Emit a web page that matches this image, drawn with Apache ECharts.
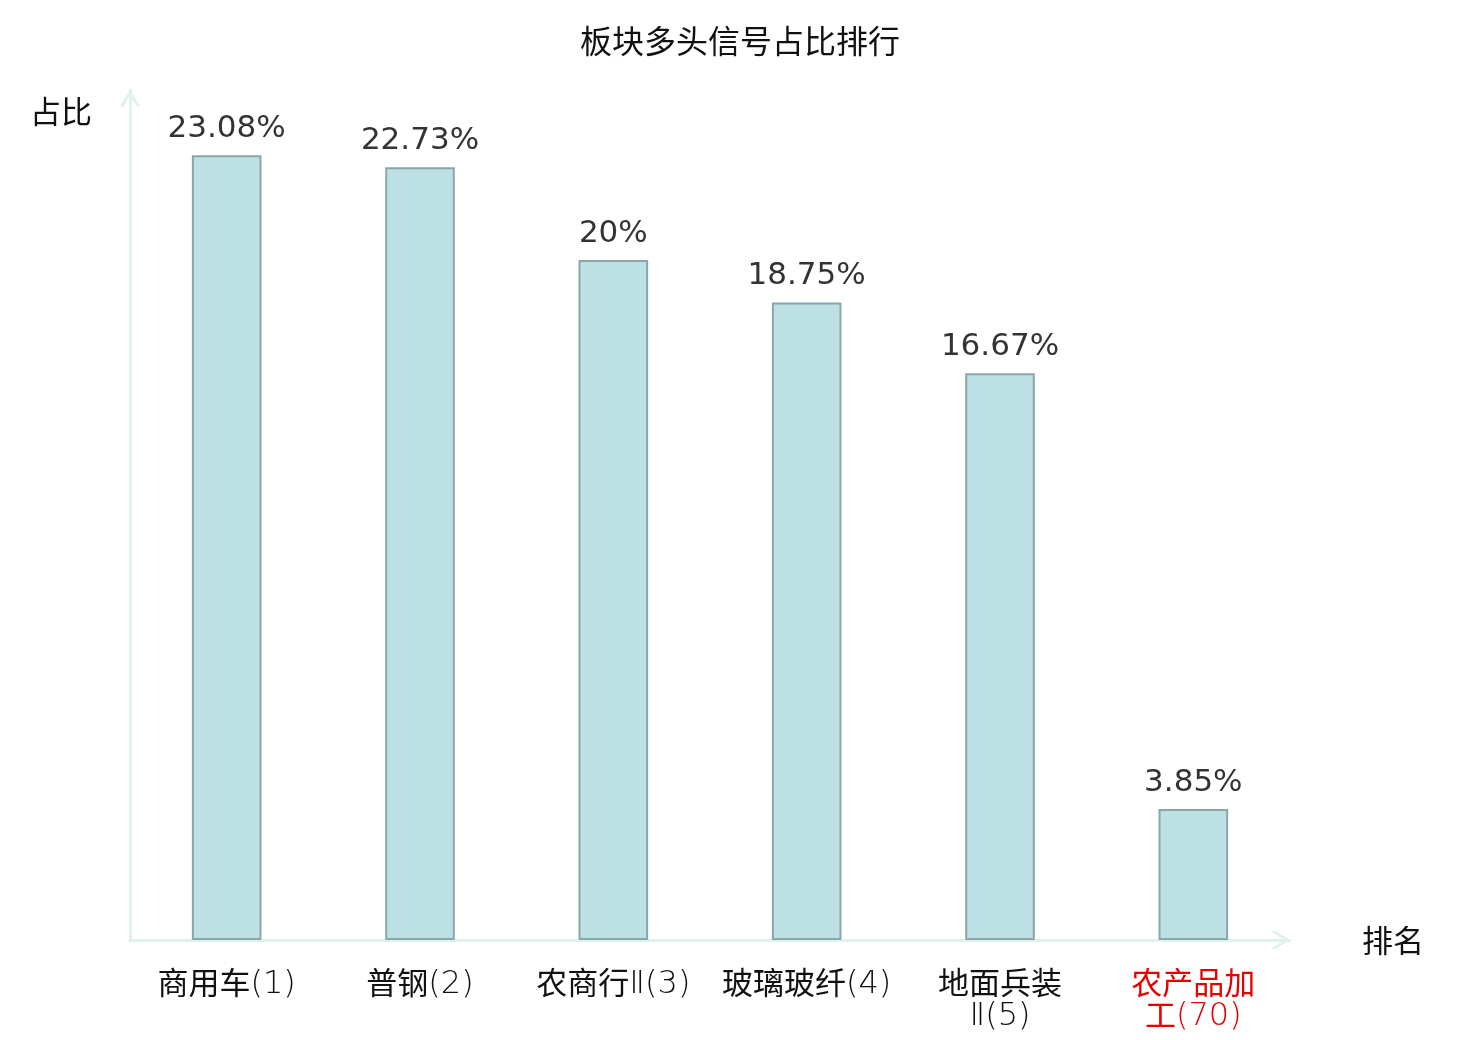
<!DOCTYPE html>
<html>
<head>
<meta charset="utf-8">
<title>板块多头信号占比排行</title>
<script src="https://cdn.jsdelivr.net/npm/echarts@6/dist/echarts.min.js"></script>
<style>
  html, body { margin: 0; padding: 0; background: #fff; }
  #chart { width: 1480px; height: 1040px; }
</style>
</head>
<body>
<div id="chart"></div>
<script>
// 数据
const categories = ['商用车(1)', '普钢(2)', '农商行Ⅱ(3)', '玻璃玻纤(4)', '地面兵装Ⅱ(5)', '农产品加工(70)']
const ratios = [23.08, 22.73, 20, 18.75, 16.67, 3.85]
const highlightIndex = 5

const axisColor = '#dff2ef'
// 开口箭头
const chevron = 'path://M10,0 L20,16 L17.5,18 L10,5 L2.5,18 L0,16 Z'

// 汉字用常规字重, 其余字符用细体
const cjkStyle = { fontFamily: 'Noto Sans CJK SC', fontWeight: 'normal', fontSize: 31, lineHeight: 32 }
const latStyle = { fontFamily: 'DejaVu Sans', fontWeight: 200, fontSize: 32, lineHeight: 32, padding: [5, 0, 0, 0] }

const myChart = echarts.init(document.getElementById('chart'))
myChart.setOption({
    title: {
        text: '板块多头信号占比排行',
        left: 'center',
        top: 20,
        textStyle: { fontSize: 32, fontWeight: 'normal', color: '#111', fontFamily: 'Noto Sans CJK SC' }
    },
    grid: { left: 130, right: 190, top: 90, bottom: 100 },
    xAxis: {
        type: 'category',
        data: categories,
        name: '排名',
        nameGap: 72,
        nameTextStyle: { fontSize: 31, color: '#111', fontFamily: 'Noto Sans CJK SC' },
        axisLine: {
            lineStyle: { color: axisColor, width: 3 },
            symbol: ['none', chevron],
            symbolSize: [20, 18],
            symbolOffset: [0, -9]
        },
        axisTick: { show: false },
        axisLabel: {
            interval: 0,
            margin: 26,
            lineHeight: 32,
            formatter: (value, index) => {
                const text = value.length > 7 ? value.slice(0, 4) + '\n' + value.slice(4) : value
                const s = index === highlightIndex ? 'R' : ''
                return text.split('\n').map(line =>
                    line.replace(/([\u4e00-\u9fff]+)|([^\u4e00-\u9fff]+)/g,
                        (m, cjk) => cjk ? `{cjk${s}|${m}}` : `{lat${s}|${m}}`)
                ).join('\n')
            },
            rich: {
                cjk: { ...cjkStyle, color: '#111' },
                lat: { ...latStyle, color: '#111' },
                cjkR: { ...cjkStyle, color: '#e60000' },
                latR: { ...latStyle, color: '#e60000' }
            }
        }
    },
    yAxis: {
        type: 'value',
        min: 0,
        max: 25,
        name: '占比',
        nameGap: -6,
        nameTextStyle: {
            fontSize: 31, color: '#111', fontFamily: 'Noto Sans CJK SC',
            align: 'right', verticalAlign: 'top', padding: [0, 38, 0, 0]
        },
        axisLine: {
            show: true,
            lineStyle: { color: axisColor, width: 3 },
            symbol: ['none', chevron],
            symbolSize: [20, 18],
            symbolOffset: [0, -9]
        },
        axisTick: { show: false },
        axisLabel: { show: false },
        splitLine: { show: false }
    },
    series: [
        {
            type: 'bar',
            data: ratios,
            barWidth: '36%',
            itemStyle: { color: '#bce0e3', borderColor: '#8aa7a8', borderWidth: 2 },
            label: {
                show: true,
                position: 'top',
                distance: 11,
                fontSize: 31,
                color: '#333',
                fontFamily: 'DejaVu Sans',
                formatter: (p) => p.value + '%'
            }
        }
    ]
})
</script>
</body>
</html>
